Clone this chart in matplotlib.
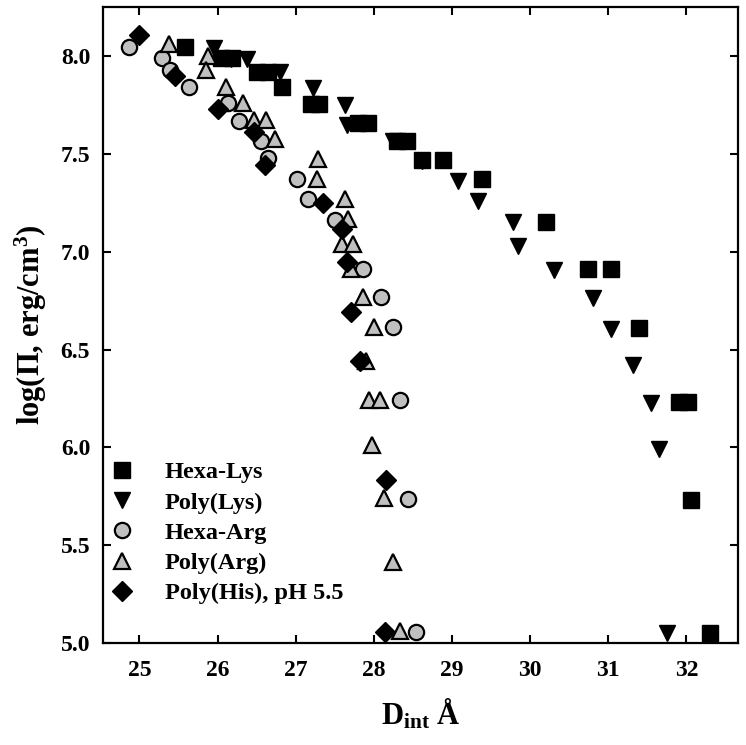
import matplotlib
matplotlib.use("Agg")
import matplotlib.pyplot as plt

plt.rcParams['font.family'] = ['Liberation Serif', 'DejaVu Serif']
plt.rcParams['font.weight'] = 'bold'
plt.rcParams['axes.labelweight'] = 'bold'
plt.rcParams['mathtext.fontset'] = 'custom'
plt.rcParams['mathtext.rm'] = 'Liberation Serif:bold'
plt.rcParams['mathtext.it'] = 'Liberation Serif:bold'
plt.rcParams['mathtext.bf'] = 'Liberation Serif:bold'

# Hexa-Lys (black squares)
hexa_lys_x = [25.58, 26.05, 26.18, 26.5, 26.65, 26.82, 27.2, 27.3, 27.8, 27.92,
              28.3, 28.42, 28.61, 28.89, 29.38, 30.2, 30.74, 31.03, 31.39,
              31.9, 32.02, 32.06, 32.3]
hexa_lys_y = [8.048, 7.99, 7.99, 7.92, 7.92, 7.84, 7.755, 7.755, 7.66, 7.66,
              7.567, 7.567, 7.47, 7.47, 7.37, 7.15, 6.91, 6.91, 6.61,
              6.23, 6.23, 5.73, 5.05]

# Poly(Lys) (black down triangles)
poly_lys_x = [25.96, 26.17, 26.37, 26.8, 27.22, 27.63, 27.65, 28.25, 28.61,
              29.08, 29.33, 29.78, 29.85, 30.31, 30.8, 31.04, 31.32, 31.55,
              31.65, 31.75]
poly_lys_y = [8.04, 7.985, 7.985, 7.92, 7.835, 7.75, 7.65, 7.567, 7.465,
              7.36, 7.26, 7.15, 7.03, 6.906, 6.765, 6.606, 6.42, 6.227,
              5.99, 5.05]

# Hexa-Arg (gray circles)
hexa_arg_x = [24.87, 25.29, 25.39, 25.64, 26.13, 26.28, 26.56, 26.64, 27.02,
              27.16, 27.5, 27.86, 28.09, 28.25, 28.33, 28.44, 28.54]
hexa_arg_y = [8.048, 7.99, 7.93, 7.845, 7.76, 7.67, 7.567, 7.48, 7.37,
              7.27, 7.16, 6.91, 6.77, 6.615, 6.24, 5.735, 5.058]

# Poly(Arg) (gray up triangles)
poly_arg_x = [25.38, 25.88, 25.85, 26.11, 26.32, 26.47, 26.62, 26.73, 27.29,
              27.27, 27.63, 27.67, 27.59, 27.73, 27.71, 27.86, 28.0, 27.9,
              27.94, 28.08, 27.97, 28.13, 28.25, 28.34]
poly_arg_y = [8.06, 8.0, 7.93, 7.845, 7.76, 7.675, 7.675, 7.575, 7.476,
              7.37, 7.27, 7.166, 7.04, 7.04, 6.91, 6.77, 6.615, 6.44,
              6.24, 6.24, 6.01, 5.74, 5.416, 5.06]

# Poly(His), pH 5.5 (black diamonds)
poly_his_x = [25.0, 25.45, 26.0, 26.47, 26.61, 27.35, 27.59, 27.65, 27.71,
              27.82, 28.15, 28.14]
poly_his_y = [8.108, 7.9, 7.73, 7.61, 7.445, 7.25, 7.115, 6.95, 6.69,
              6.44, 5.835, 5.058]

gray = '#c0c0c0'

fig = plt.figure(figsize=(7.46, 7.45), dpi=100)
ax = fig.add_axes([0.1377, 0.137, 0.8516, 0.854])

h2, = ax.plot(poly_lys_x, poly_lys_y, 'v', ms=12, color='black', mec='black',
              mew=1, ls='none', label='Poly(Lys)')
h1, = ax.plot(hexa_lys_x, hexa_lys_y, 's', ms=11, color='black', mec='black',
              mew=1, ls='none', label='Hexa-Lys')
h3, = ax.plot(hexa_arg_x, hexa_arg_y, 'o', ms=11, color=gray, mec='black',
              mew=1.6, ls='none', label='Hexa-Arg')
h4, = ax.plot(poly_arg_x, poly_arg_y, '^', ms=12, color=gray, mec='black',
              mew=1.6, ls='none', label='Poly(Arg)')
h5, = ax.plot(poly_his_x, poly_his_y, 'D', ms=10, color='black', mec='black',
              mew=1, ls='none', label='Poly(His), pH 5.5')

ax.set_xlim(24.53, 32.66)
ax.set_ylim(5.0, 8.253)
ax.set_xticks(range(25, 33))
ax.set_yticks([5.0, 5.5, 6.0, 6.5, 7.0, 7.5, 8.0])
ax.set_yticklabels(['5.0', '5.5', '6.0', '6.5', '7.0', '7.5', '8.0'])
ax.tick_params(direction='in', length=6, width=1.5, top=True, right=True,
               labelsize=17)
ax.tick_params(axis='y', pad=9)
ax.tick_params(axis='x', pad=12)
for sp in ax.spines.values():
    sp.set_linewidth(1.6)

ax.set_xlabel(r'D$_{\mathrm{int}}$ Å', fontsize=22, labelpad=12)
ax.set_ylabel(r'log(Π, erg/cm$^{3}$)', fontsize=22, labelpad=8)

ax.legend(handles=[h1, h2, h3, h4, h5], loc='lower left',
          bbox_to_anchor=(0.0, 0.053), frameon=False, fontsize=17.5,
          handlelength=1.18, handletextpad=1.18, labelspacing=0.34,
          borderpad=0.2, borderaxespad=0.0, markerscale=1.0)

fig.savefig('out.png', dpi=100)
